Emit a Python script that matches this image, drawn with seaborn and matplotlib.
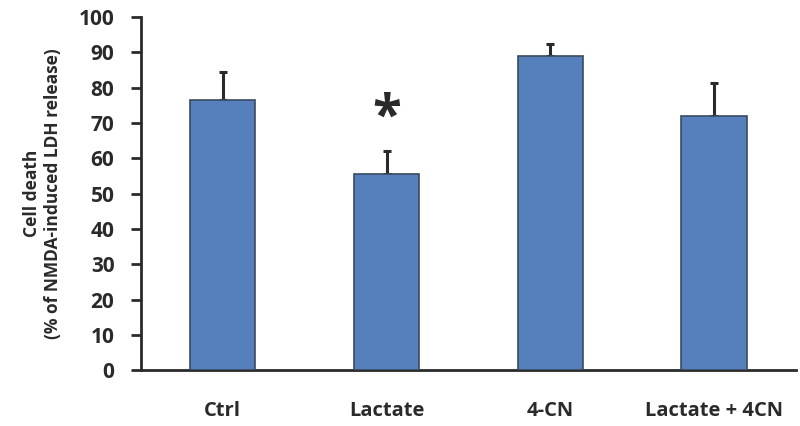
import numpy as np
import pandas as pd
import matplotlib
matplotlib.use("Agg")
import matplotlib.pyplot as plt
import seaborn as sns

# datos
groups = ["Ctrl", "Lactate", "4-CN", "Lactate + 4CN"]
cell_death = [76.5, 55.5, 89.0, 72.0]
sem = [8.0, 6.5, 3.5, 9.2]
signif = ["", "*", "", ""]

df = pd.DataFrame({"group": groups, "value": cell_death, "err": sem})

sns.set_style("white")
plt.rcParams["font.family"] = ["Open Sans", "DejaVu Sans"]

fig = plt.figure(figsize=(8, 4.26), dpi=100)
ax = fig.add_axes([0.176, 0.131, 0.819, 0.829])

sns.barplot(data=df, x="group", y="value", color="#5580bb", width=0.4, saturation=1,
            edgecolor="#3a4a60", linewidth=1.2, errorbar=None, ax=ax)
for p in ax.patches:
    p.set_zorder(3)

# barras de error solo hacia arriba (la parte inferior queda tapada por la barra)
x = np.arange(len(groups))
ax.errorbar(x, df["value"], yerr=[np.zeros(len(groups)), df["err"]],
            fmt="none", ecolor="#2a2a2a", elinewidth=2.2, capsize=3, capthick=2.2, zorder=2)

for i, s in enumerate(signif):
    if s:
        ax.text(i, df["value"][i] + df["err"][i] + 1.5, s, ha="center", va="bottom",
                fontsize=38, fontweight="bold", color="#2a2a2a")

ax.set_xlim(-0.5, len(groups) - 0.5)
ax.set_ylim(0, 100)
ax.set_yticks(np.arange(0, 101, 10))
ax.set_xlabel("")
ax.set_ylabel("Cell death\n(% of NMDA-induced LDH release)", fontsize=12.5,
              fontweight="bold", color="#2a2a2a", labelpad=12)

# ticks del eje x entre categorias
ax.set_xticks(x)
ax.set_xticks(np.arange(-0.5, len(groups), 1), minor=True)
ax.tick_params(axis="x", which="major", length=0, pad=22, labelsize=14.5, labelcolor="#2a2a2a")
ax.tick_params(axis="x", which="minor", length=7, width=2, color="#2a2a2a", direction="out")
ax.tick_params(axis="y", length=7, width=2, color="#2a2a2a", direction="out",
               labelsize=15, labelcolor="#2a2a2a", pad=12)
ax.tick_params(axis="both", bottom=True, left=True)
for lbl in ax.get_xticklabels() + ax.get_yticklabels():
    lbl.set_fontweight("bold")

for side in ["top", "right"]:
    ax.spines[side].set_visible(False)
for side in ["left", "bottom"]:
    ax.spines[side].set_linewidth(2)
    ax.spines[side].set_color("#2a2a2a")

plt.savefig("out.png", dpi=100)
